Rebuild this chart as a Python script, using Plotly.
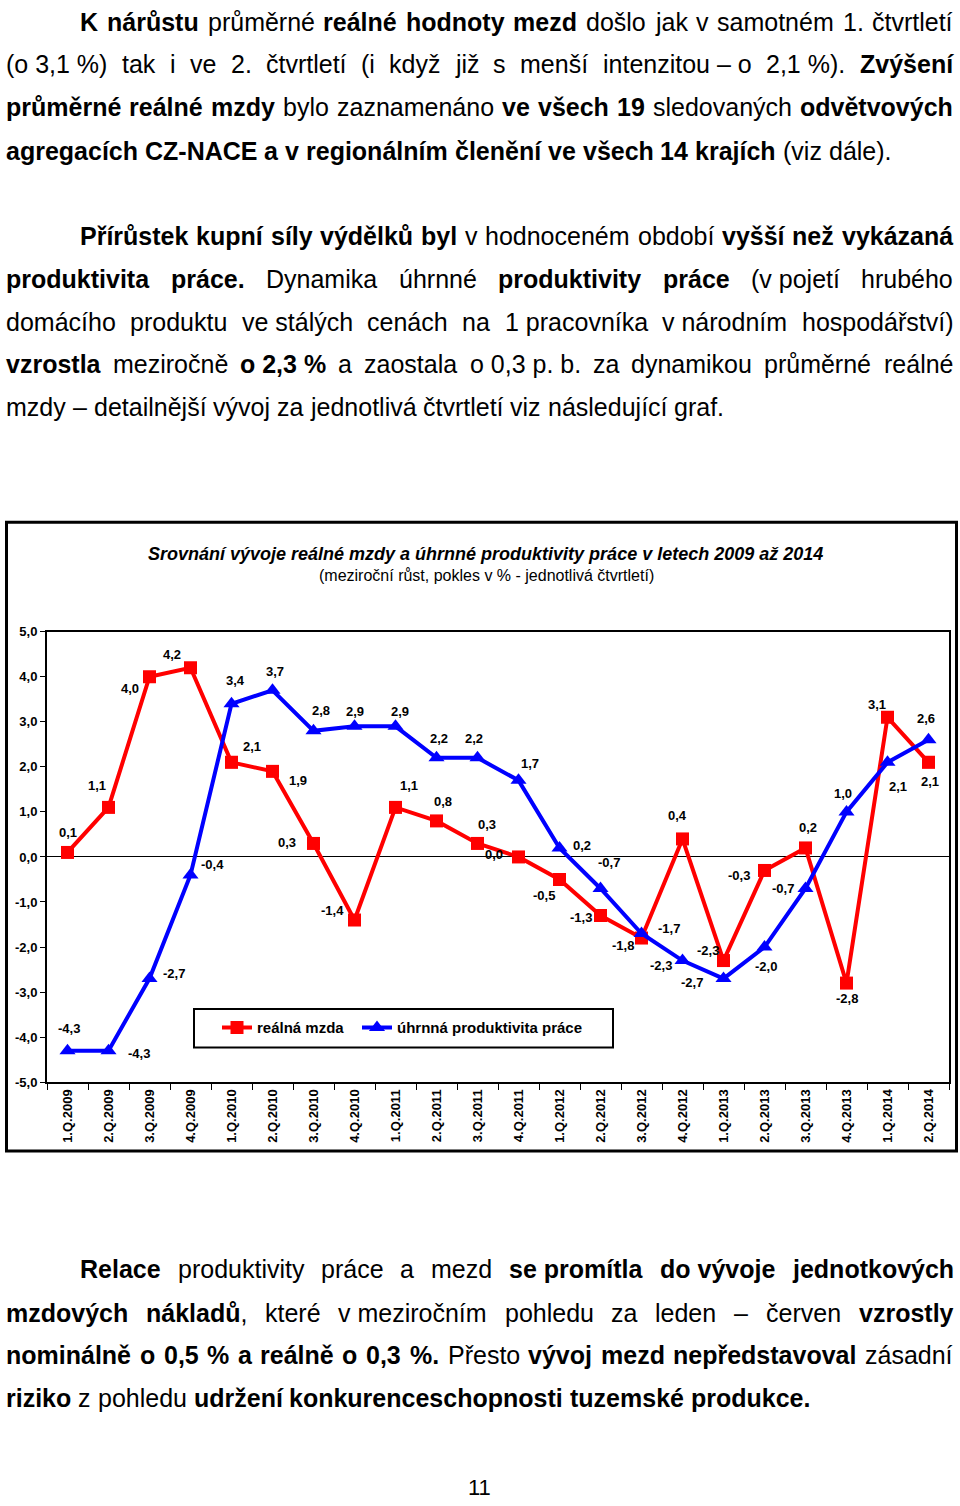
import plotly.graph_objects as go

W, H = 960, 1506
FONT = "Liberation Sans"
NB = "\u00a0"

# ------------------------------------------------------------------ data
quarters = ["1.Q.2009", "2.Q.2009", "3.Q.2009", "4.Q.2009",
            "1.Q.2010", "2.Q.2010", "3.Q.2010", "4.Q.2010",
            "1.Q.2011", "2.Q.2011", "3.Q.2011", "4.Q.2011",
            "1.Q.2012", "2.Q.2012", "3.Q.2012", "4.Q.2012",
            "1.Q.2013", "2.Q.2013", "3.Q.2013", "4.Q.2013",
            "1.Q.2014", "2.Q.2014"]
real_wage = [0.1, 1.1, 4.0, 4.2, 2.1, 1.9, 0.3, -1.4, 1.1, 0.8, 0.3, 0.0,
             -0.5, -1.3, -1.8, 0.4, -2.3, -0.3, 0.2, -2.8, 3.1, 2.1]
productivity = [-4.3, -4.3, -2.7, -0.4, 3.4, 3.7, 2.8, 2.9, 2.9, 2.2, 2.2, 1.7,
                0.2, -0.7, -1.7, -2.3, -2.7, -2.0, -0.7, 1.0, 2.1, 2.6]
y_ticks = [-5, -4, -3, -2, -1, 0, 1, 2, 3, 4, 5]
series_names = ["reálná mzda", "úhrnná produktivita práce"]
chart_title = "Srovnání vývoje reálné mzdy a úhrnné produktivity práce v letech 2009 až 2014"
chart_subtitle = "(meziroční růst, pokles v % - jednotlivá čtvrtletí)"
page_number = "11"

# page text: each line is a list of (text, bold) runs
para_lines = [
    [("K nárůstu", True), (" průměrné ", False), ("reálné hodnoty mezd", True),
     (" došlo jak v samotném 1. čtvrtletí", False)],
    [("(o" + NB + "3,1" + NB + "%) tak i ve 2. čtvrtletí (i když již s menší intenzitou" + NB + "–" + NB + "o 2,1" + NB + "%). ", False),
     ("Zvýšení", True)],
    [("průměrné reálné mzdy", True), (" bylo zaznamenáno ", False), ("ve všech 19", True),
     (" sledovaných ", False), ("odvětvových", True)],
    [("agregacích CZ-NACE a v regionálním členění ve všech 14 krajích", True), (" (viz dále).", False)],
    [("Přírůstek kupní síly výdělků byl", True), (" v hodnoceném období ", False),
     ("vyšší než vykázaná", True)],
    [("produktivita práce.", True), (" Dynamika úhrnné ", False), ("produktivity práce", True),
     (" (v" + NB + "pojetí hrubého", False)],
    [("domácího produktu ve" + NB + "stálých cenách na 1" + NB + "pracovníka v" + NB + "národním hospodářství)", False)],
    [("vzrostla", True), (" meziročně ", False), ("o" + NB + "2,3" + NB + "%", True),
     (" a zaostala o" + NB + "0,3" + NB + "p." + NB + "b. za dynamikou průměrné reálné", False)],
    [("mzdy – detailnější vývoj za jednotlivá čtvrtletí viz následující graf.", False)],
    [("Relace", True), (" produktivity práce a mezd ", False),
     ("se" + NB + "promítla do" + NB + "vývoje jednotkových", True)],
    [("mzdových nákladů", True), (", které v" + NB + "meziročním pohledu za leden – červen ", False),
     ("vzrostly", True)],
    [("nominálně o 0,5 % a reálně o 0,3 %.", True), (" Přesto ", False),
     ("vývoj mezd nepředstavoval", True), (" zásadní", False)],
    [("riziko", True), (" z pohledu ", False),
     ("udržení konkurenceschopnosti tuzemské produkce.", True)],
]

# ------------------------------------------------------------------ layout / style
line_y = [15, 58, 101, 145, 231, 275, 318, 361, 404, 1275, 1319, 1362, 1405]
line_x0 = [79, 5, 5, 5, 79, 5, 5, 5, 5, 79, 5, 5, 5]
line_justify = [True, True, True, False, True, True, True, True, False, True, True, True, False]
TEXT_RIGHT = 952
TEXT_FS = 25

red_label_off = [(0, -20), (-12, -22), (-20, 12), (-19, -13), (20, -16), (25, 9), (-27, -1),
                 (-22, -10), (13, -22), (6, -19), (9, -19), (-25, -2), (-16, 16), (-20, 2),
                 (-19, 7), (-5, -23), (-16, -10), (-26, 5), (2, -20), (0, 15), (-11, -13), (1, 19)]
blue_label_off = [(1, -22), (30, 3), (24, -5), (22, -10), (4, -23), (2, -19), (7, -20), (0, -15),
                  (4, -15), (2, -19), (-4, -19), (11, -17), (22, -2), (8, -26), (27, -5), (-22, 5),
                  (-32, 4), (1, 19), (-23, 0), (-4, -18), (10, 24), (-3, -21)]

# Arial / Liberation Sans advance widths (1/1000 em)
REG = {' ': 278, NB: 278, '%': 889, '(': 333, ')': 333, ',': 278, '-': 333, '.': 278, '–': 556}
BOLD = dict(REG)
for d in "0123456789":
    REG[d] = BOLD[d] = 556
REG.update(dict(zip("ABCDEFGHIJKLMNOPQRSTUVWXYZ",
                    [667, 667, 722, 722, 667, 611, 778, 722, 278, 500, 667, 556, 833, 722, 778, 667,
                     778, 722, 667, 611, 722, 667, 944, 667, 667, 611])))
REG.update(dict(zip("abcdefghijklmnopqrstuvwxyz",
                    [556, 556, 500, 556, 556, 278, 556, 556, 222, 222, 500, 222, 833, 556, 556, 556,
                     556, 333, 500, 278, 556, 500, 722, 500, 500, 500])))
BOLD.update(dict(zip("ABCDEFGHIJKLMNOPQRSTUVWXYZ",
                     [722, 722, 722, 722, 667, 611, 778, 722, 278, 556, 722, 611, 833, 722, 778, 667,
                      778, 722, 667, 611, 722, 667, 944, 667, 667, 611])))
BOLD.update(dict(zip("abcdefghijklmnopqrstuvwxyz",
                     [556, 611, 556, 611, 556, 333, 611, 611, 278, 278, 556, 278, 889, 611, 611, 611,
                      611, 389, 556, 333, 611, 556, 778, 556, 556, 500])))
ACC = {'á': 'a', 'é': 'e', 'ě': 'e', 'ó': 'o', 'ú': 'u', 'ů': 'u', 'ý': 'y', 'č': 'c', 'ř': 'r',
       'š': 's', 'ž': 'z', 'ň': 'n', 'ť': 't', 'ď': 'd', 'Č': 'C', 'Ř': 'R', 'Š': 'S', 'Ž': 'Z',
       'Ú': 'U', 'Á': 'A', 'É': 'E'}


def char_w(ch, bold):
    tbl = BOLD if bold else REG
    if ch in ('í', 'Í'):
        return 278
    ch = ACC.get(ch, ch)
    return tbl.get(ch, 556)


def px(x):
    return x / W


def py(y):
    return 1 - y / H


annotations = []


def add_text(x, y, text, size, anchor="left", color="black"):
    annotations.append(dict(xref="paper", yref="paper", x=px(x), y=py(y), text=text,
                            showarrow=False, xanchor=anchor, yanchor="middle", borderpad=0,
                            font=dict(family=FONT, size=size, color=color)))


def words_of(runs):
    words, cur = [], []
    for txt, bold in runs:
        for ch in txt:
            if ch == ' ':
                if cur:
                    words.append(cur)
                    cur = []
            else:
                if cur and cur[-1][0] == bold:
                    cur[-1][1] += ch
                else:
                    cur.append([bold, ch])
    if cur:
        words.append(cur)
    return words


for runs, yc, x0, just in zip(para_lines, line_y, line_x0, line_justify):
    words = words_of(runs)
    widths = [sum(char_w(c, b) for b, t in w for c in t) * TEXT_FS / 1000 for w in words]
    if just and len(words) > 1:
        gap = (TEXT_RIGHT - x0 - sum(widths)) / (len(words) - 1)
    else:
        gap = 278 * TEXT_FS / 1000
    x = x0
    for w, wd in zip(words, widths):
        html = "".join(("<b>%s</b>" % t) if b else t for b, t in w)
        add_text(x, yc, html, TEXT_FS)
        x += wd + gap

add_text(479, 1495, page_number, 22, anchor="center")

# chart title
add_text(485, 553, "<b><i>%s</i></b>" % chart_title, 18, anchor="center")
add_text(486, 574, chart_subtitle, 16, anchor="center")


def fmt(v):
    return ("%.1f" % v).replace(".", ",")


for vals, offs in ((real_wage, red_label_off), (productivity, blue_label_off)):
    for q, v, (dx, dy) in zip(quarters, vals, offs):
        annotations.append(dict(xref="x", yref="y", x=q, y=v, text="<b>%s</b>" % fmt(v),
                                showarrow=False, xshift=dx, yshift=-dy,
                                font=dict(family=FONT, size=13, color="black")))

fig = go.Figure()
fig.add_trace(go.Scatter(x=quarters, y=real_wage, mode="lines+markers", name=series_names[0],
                         legend="legend",
                         line=dict(color="#FF0000", width=4),
                         marker=dict(symbol="square", size=13, color="#FF0000")))
fig.add_trace(go.Scatter(x=quarters, y=productivity, mode="lines+markers", name=series_names[1],
                         legend="legend2",
                         line=dict(color="#0000FF", width=4),
                         marker=dict(symbol="triangle-up", size=14, color="#0000FF")))

shapes = [
    dict(type="rect", xref="paper", yref="paper", x0=px(6.5), x1=px(956.5), y0=py(520.5),
         y1=py(1155.5), line=dict(color="black", width=3)),
    dict(type="rect", xref="paper", yref="paper", x0=px(194), x1=px(613), y0=py(1012),
         y1=py(1051), line=dict(color="black", width=2)),
]

legend_font = dict(family=FONT, size=15, color="black", weight="bold")
tickfont = dict(family=FONT, size=13, color="black", weight="bold")
fig.update_layout(
    width=W, height=H, margin=dict(l=0, r=0, t=0, b=0),
    paper_bgcolor="white", plot_bgcolor="white",
    annotations=annotations, shapes=shapes,
    showlegend=True,
    legend=dict(orientation="h", x=px(217), y=py(1031), xanchor="left", yanchor="middle",
                bgcolor="rgba(0,0,0,0)", borderwidth=0, itemwidth=30, font=legend_font),
    legend2=dict(orientation="h", x=px(357), y=py(1031), xanchor="left", yanchor="middle",
                 bgcolor="rgba(0,0,0,0)", borderwidth=0, itemwidth=30, font=legend_font),
    xaxis=dict(domain=[px(47), px(949)], type="category", range=[-0.5, len(quarters) - 0.5],
               tickson="boundaries", ticks="outside", ticklen=6, tickwidth=1, tickcolor="black",
               showline=True, linecolor="black", linewidth=2, mirror=True,
               showgrid=False, tickangle=-90, tickfont=tickfont),
    yaxis=dict(domain=[py(1086), py(631)], range=[-5, 5], tickvals=y_ticks,
               ticktext=[fmt(v) for v in y_ticks], ticks="outside", ticklen=5, tickwidth=1,
               tickcolor="black", showline=True, linecolor="black", linewidth=2, mirror=True,
               showgrid=False, zeroline=True, zerolinecolor="black", zerolinewidth=1,
               tickfont=tickfont),
)

post = ("document.documentElement.style.margin='0';document.body.style.margin='0';"
        "document.body.style.overflow='hidden';"
        "var d=document.getElementsByClassName('plotly-graph-div')[0];"
        "d.style.position='fixed';d.style.top='0px';d.style.left='0px';")
fig.write_html("out.html", config={"displayModeBar": False}, post_script=post)
